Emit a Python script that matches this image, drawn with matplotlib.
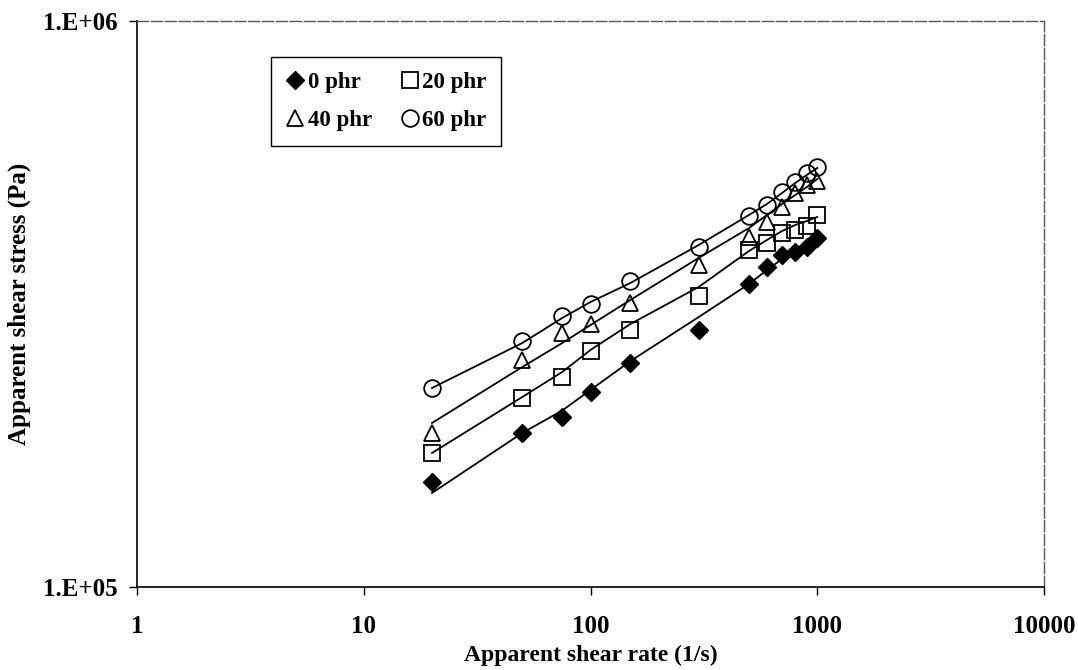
import matplotlib
matplotlib.use('Agg')
import matplotlib.pyplot as plt
from matplotlib.lines import Line2D

# apparent shear rate (1/s)
shear_rate = [20, 50, 75, 100, 150, 300, 500, 600, 700, 800, 900, 1000]

# measured apparent shear stress (Pa)
stress_0 = [1.533e5, 1.871e5, 1.997e5, 2.211e5, 2.488e5, 2.845e5,
            3.430e5, 3.677e5, 3.860e5, 3.907e5, 3.987e5, 4.136e5]
stress_20 = [1.725e5, 2.158e5, 2.350e5, 2.612e5, 2.845e5, 3.267e5,
             3.939e5, 4.053e5, 4.221e5, 4.273e5, 4.343e5, 4.542e5]
stress_40 = [1.871e5, 2.518e5, 2.810e5, 2.915e5, 3.176e5, 3.707e5,
             4.153e5, 4.414e5, 4.692e5, 4.968e5, 5.132e5, 5.217e5]
stress_60 = [2.247e5, 2.720e5, 3.012e5, 3.162e5, 3.472e5, 3.987e5,
             4.524e5, 4.730e5, 4.988e5, 5.195e5, 5.389e5, 5.521e5]

# fitted curves (drawn as lines)
fit_0 = [1.466e5, 1.871e5, 2.050e5, 2.229e5, 2.507e5, 2.999e5,
         3.430e5, 3.632e5, 3.798e5, 3.939e5, 4.053e5, 4.170e5]
fit_20 = [1.725e5, 2.166e5, 2.398e5, 2.623e5, 2.915e5, 3.389e5,
          3.923e5, 4.103e5, 4.256e5, 4.361e5, 4.433e5, 4.505e5]
fit_40 = [1.949e5, 2.447e5, 2.698e5, 2.903e5, 3.215e5, 3.814e5,
          4.308e5, 4.542e5, 4.750e5, 4.927e5, 5.090e5, 5.259e5]
fit_60 = [2.247e5, 2.698e5, 2.987e5, 3.188e5, 3.444e5, 4.020e5,
          4.542e5, 4.750e5, 4.968e5, 5.174e5, 5.346e5, 5.499e5]

labels = ['0 phr', '20 phr', '40 phr', '60 phr']

plt.rcParams['font.family'] = ['Liberation Serif', 'DejaVu Serif']
plt.rcParams['font.weight'] = 'bold'

fig = plt.figure(figsize=(10.78, 6.70), dpi=100)
ax = fig.add_axes([0.1271, 0.1239, 0.8414, 0.8448])

for fit in [fit_0, fit_20, fit_40, fit_60]:
    ax.plot(shear_rate, fit, color='black', lw=1.3, zorder=2)

ax.plot(shear_rate, stress_0, ls='none', marker='D', ms=9, mfc='black', mec='black', zorder=3)
ax.plot(shear_rate, stress_20, ls='none', marker='s', ms=11.5, mfc='none', mec='black', mew=1.3, zorder=3)
ax.plot(shear_rate, stress_40, ls='none', marker='^', ms=12, mfc='none', mec='black', mew=1.3, zorder=3)
ax.plot(shear_rate, stress_60, ls='none', marker='o', ms=12, mfc='none', mec='black', mew=1.3, zorder=3)

ax.set_xscale('log')
ax.set_yscale('log')
ax.set_xlim(1, 10000)
ax.set_ylim(1e5, 1e6)
ax.set_xticks([1, 10, 100, 1000, 10000])
ax.set_xticklabels(['1', '10', '100', '1000', '10000'])
ax.set_yticks([1e5, 1e6])
ax.set_yticklabels(['1.E+05', '1.E+06'])
ax.minorticks_off()
ax.tick_params(axis='both', direction='out', length=6, width=1, labelsize=18)
ax.tick_params(axis='x', pad=14)
ax.tick_params(axis='y', pad=8)
for lab in ax.get_xticklabels() + ax.get_yticklabels():
    lab.set_fontweight('bold')

ax.spines['left'].set_linewidth(1.2)
ax.spines['bottom'].set_linewidth(1.2)
for side in ['top', 'right']:
    ax.spines[side].set_linestyle((0, (8, 2)))
    ax.spines[side].set_color('#555555')
    ax.spines[side].set_linewidth(1.0)

ax.set_xlabel('Apparent shear rate (1/s)', fontsize=17, fontweight='bold')
ax.set_ylabel('Apparent shear stress (Pa)', fontsize=18, fontweight='bold')
ax.xaxis.set_label_coords(0.5, -0.102)
ax.yaxis.set_label_coords(-0.117, 0.5)

# legend: row 1 -> 0 phr, 20 phr ; row 2 -> 40 phr, 60 phr
h0 = Line2D([], [], ls='none', marker='D', ms=9, mfc='black', mec='black')
h20 = Line2D([], [], ls='none', marker='s', ms=11.5, mfc='none', mec='black', mew=1.3)
h40 = Line2D([], [], ls='none', marker='^', ms=12, mfc='none', mec='black', mew=1.3)
h60 = Line2D([], [], ls='none', marker='o', ms=12, mfc='none', mec='black', mew=1.3)
leg = ax.legend([h0, h40, h20, h60], [labels[0], labels[2], labels[1], labels[3]],
                ncol=2, loc='upper left', bbox_to_anchor=(0.1477, 0.936), borderaxespad=0,
                fancybox=False, framealpha=1, edgecolor='black',
                handlelength=0.8, handletextpad=0.15, columnspacing=1.25,
                borderpad=0.65, labelspacing=0.75, prop={'weight': 'bold', 'size': 16.5})
leg.get_frame().set_linewidth(1.0)

fig.savefig('out.png', dpi=100)
